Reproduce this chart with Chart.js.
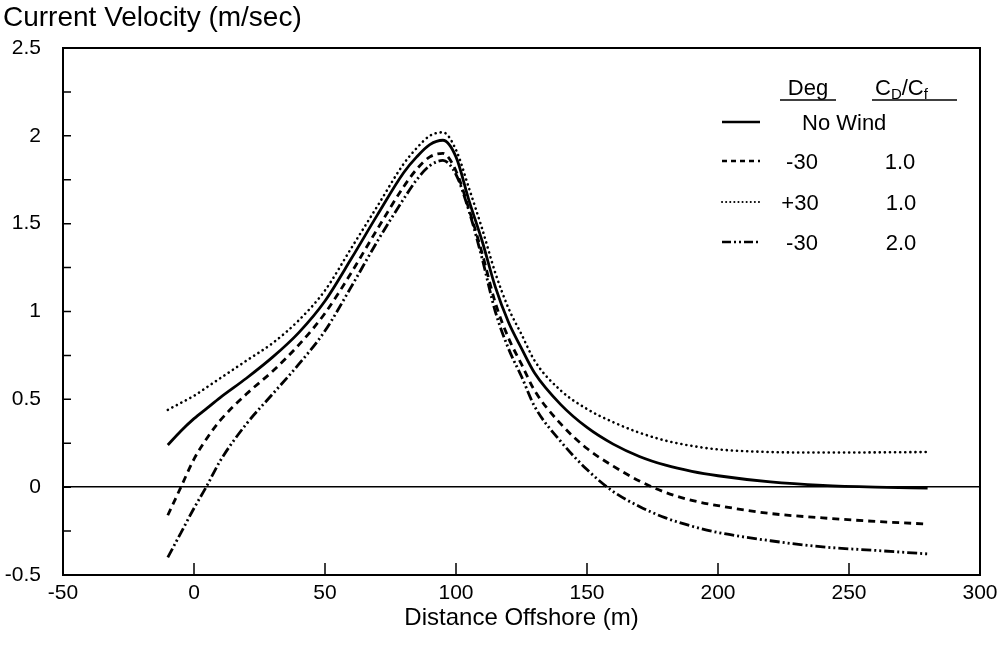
<!DOCTYPE html>
<html lang="en">
<head>
<meta charset="UTF-8">
<title>Current Velocity vs Distance Offshore</title>
<script src="https://cdn.jsdelivr.net/npm/chart.js"></script>
<style>
    body { margin: 0; background: #fff; }
    #wrap { position: relative; width: 1004px; height: 646px; }
    #legend { position: absolute; left: 0; top: 0; pointer-events: none; }
    #legend text { font-family: "Liberation Sans", Arial, sans-serif; font-size: 22px; fill: #000; }
</style>
</head>
<body>
<div id="wrap">
    <canvas id="chart" width="1004" height="646"></canvas>
    <svg id="legend" width="1004" height="646">
        <text x="808" y="95" text-anchor="middle">Deg</text>
        <line x1="780" y1="100" x2="836" y2="100" stroke="#000" stroke-width="1.6"/>
        <text x="875" y="95">C<tspan font-size="15" dy="4">D</tspan><tspan dy="-4">/C</tspan><tspan font-size="15" dy="4">f</tspan></text>
        <line x1="872" y1="100" x2="957" y2="100" stroke="#000" stroke-width="1.6"/>

        <line x1="722" y1="122" x2="760" y2="122" stroke="#000" stroke-width="2.6"/>
        <text x="802" y="130">No Wind</text>

        <line x1="722" y1="161" x2="760" y2="161" stroke="#000" stroke-width="2.6" stroke-dasharray="5 4"/>
        <text x="802" y="169" text-anchor="middle">-30</text>
        <text x="900" y="169" text-anchor="middle">1.0</text>

        <line x1="722" y1="202" x2="760" y2="202" stroke="#000" stroke-width="2" stroke-dasharray="0.1 4" stroke-linecap="round"/>
        <text x="800" y="210" text-anchor="middle">+30</text>
        <text x="901" y="210" text-anchor="middle">1.0</text>

        <line x1="722" y1="242" x2="760" y2="242" stroke="#000" stroke-width="2.6" stroke-dasharray="9 3 2 3 2 3"/>
        <text x="802" y="250" text-anchor="middle">-30</text>
        <text x="901" y="250" text-anchor="middle">2.0</text>
    </svg>
</div>

<script>
// distance offshore (m)
const distance = [-10, -5, 0, 5, 10, 20, 30, 40, 50, 60, 70, 80, 85, 90, 95, 100, 105, 110, 115, 120,
    125, 130, 140, 150, 160, 170, 180, 190, 200, 220, 240, 260, 280];

// current velocity (m/sec)
const noWind = [0.24, 0.32, 0.39, 0.45, 0.51, 0.62, 0.74, 0.88, 1.06, 1.30, 1.55, 1.79, 1.88, 1.95, 1.975, 1.88, 1.63, 1.40, 1.14, 0.94,
    0.79, 0.65, 0.47, 0.34, 0.245, 0.175, 0.125, 0.09, 0.065, 0.03, 0.01, 0.0, -0.005];
const minus30cd1 = [-0.16, 0.0, 0.16, 0.28, 0.38, 0.53, 0.66, 0.81, 0.99, 1.22, 1.47, 1.71, 1.81, 1.88, 1.90, 1.80, 1.58, 1.33, 1.05, 0.85,
    0.70, 0.55, 0.36, 0.22, 0.12, 0.035, -0.03, -0.075, -0.105, -0.15, -0.175, -0.195, -0.21];
const plus30cd1 = [0.44, 0.48, 0.52, 0.57, 0.62, 0.72, 0.82, 0.95, 1.12, 1.36, 1.60, 1.84, 1.93, 2.00, 2.02, 1.92, 1.70, 1.47, 1.22, 1.02,
    0.87, 0.72, 0.55, 0.445, 0.37, 0.31, 0.265, 0.235, 0.215, 0.20, 0.197, 0.198, 0.20];
const minus30cd2 = [-0.40, -0.26, -0.12, 0.01, 0.15, 0.36, 0.53, 0.70, 0.89, 1.14, 1.40, 1.64, 1.75, 1.83, 1.86, 1.78, 1.57, 1.30, 1.00, 0.79,
    0.63, 0.46, 0.26, 0.10, -0.025, -0.11, -0.175, -0.222, -0.258, -0.305, -0.34, -0.36, -0.38];

// axis ticks
const xTickMarks = [0, 50, 100, 150, 200, 250];
const yTickMarks = [-0.25, 0, 0.25, 0.5, 0.75, 1, 1.25, 1.5, 1.75, 2, 2.25];

const pts = arr => distance.map((x, i) => ({ x: x, y: arr[i] }));

Chart.defaults.font.family = '"Liberation Sans", Arial, sans-serif';
Chart.defaults.color = '#000';

// box around plot + inward tick marks
const frame = {
    id: 'frame',
    afterDraw(chart) {
        const { ctx, chartArea: a, scales: { x, y } } = chart;
        ctx.save();
        ctx.strokeStyle = '#000';
        ctx.lineWidth = 2;
        ctx.strokeRect(a.left, a.top, a.width, a.height);
        ctx.beginPath();
        xTickMarks.forEach(v => {
            const px = x.getPixelForValue(v);
            ctx.moveTo(px, a.bottom);
            ctx.lineTo(px, a.bottom - 12);
        });
        yTickMarks.forEach(v => {
            const py = y.getPixelForValue(v);
            ctx.moveTo(a.left, py);
            ctx.lineTo(a.left + 8, py);
        });
        ctx.lineWidth = 1.5;
        ctx.stroke();
        ctx.restore();
    }
};

const line = (label, arr, extra) => Object.assign({
    label: label,
    data: pts(arr),
    borderColor: '#000',
    borderWidth: 2.8,
    pointRadius: 0,
    fill: false,
    cubicInterpolationMode: 'monotone'
}, extra);

new Chart(document.getElementById('chart'), {
    type: 'line',
    data: {
        datasets: [
            line('No Wind', noWind, {}),
            line('-30 / 1.0', minus30cd1, { borderDash: [7, 5] }),
            line('+30 / 1.0', plus30cd1, { borderDash: [0.1, 5], borderCapStyle: 'round', borderWidth: 2.6 }),
            line('-30 / 2.0', minus30cd2, { borderDash: [10, 3, 2, 3, 2, 3] })
        ]
    },
    options: {
        responsive: false,
        animation: false,
        devicePixelRatio: 1,
        layout: { padding: { left: 3, right: 24, top: 0, bottom: 0 } },
        plugins: {
            legend: { display: false },
            tooltip: { enabled: false },
            title: {
                display: true,
                text: 'Current Velocity (m/sec)',
                align: 'start',
                color: '#000',
                font: { size: 28, weight: 'normal' },
                padding: { top: 1, bottom: 13.4 }
            }
        },
        scales: {
            x: {
                type: 'linear',
                min: -50,
                max: 300,
                ticks: { stepSize: 50, font: { size: 21 }, padding: 6, maxRotation: 0 },
                grid: { display: false, drawTicks: false },
                border: { display: false },
                title: {
                    display: true,
                    text: 'Distance Offshore (m)',
                    font: { size: 24 },
                    padding: { top: 0, bottom: 13 }
                },
                afterFit(scale) { scale.height = 71; }
            },
            y: {
                min: -0.5,
                max: 2.5,
                ticks: { stepSize: 0.5, font: { size: 21 }, padding: 22, callback: v => String(v) },
                grid: {
                    drawTicks: false,
                    color: c => c.tick && c.tick.value === 0 ? '#000' : 'rgba(0,0,0,0)',
                    lineWidth: 1.5
                },
                border: { display: false },
                afterFit(scale) { scale.width = 60; }
            }
        }
    },
    plugins: [frame]
});
</script>
</body>
</html>
